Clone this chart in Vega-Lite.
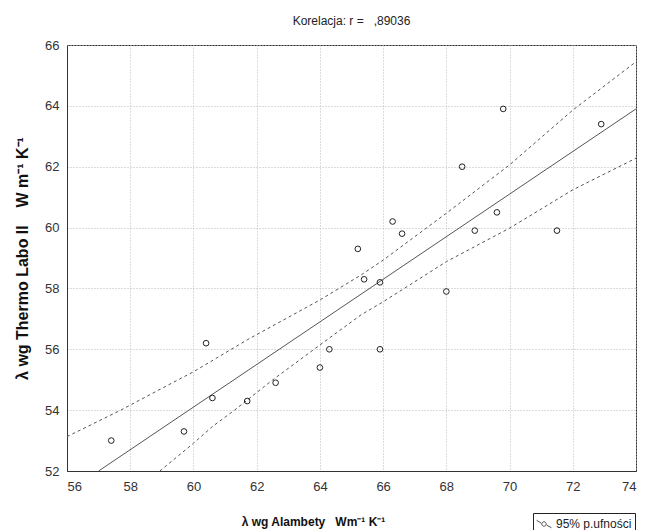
{
  "$schema": "https://vega.github.io/schema/vega-lite/v6.json",
  "autosize": "none",
  "width": 569,
  "height": 426,
  "padding": {"left": 67, "top": 45, "right": 9, "bottom": 59},
  "background": "#ffffff",
  "title": {"text": "Korelacja: r =\u00a0\u00a0 ,89036", "font": "Liberation Sans", "fontSize": 12, "fontWeight": "normal", "color": "#222222", "offset": 11, "anchor": "middle"},
  "config": {
    "view": {"stroke": "#333333", "strokeWidth": 1},
    "axis": {"labelFont": "Liberation Sans", "labelFontSize": 13, "labelColor": "#333333", "titleFont": "Liberation Sans", "titleColor": "#111111", "gridColor": "#b8b8b8", "gridDash": [1, 2], "gridWidth": 1, "domainColor": "#333333", "ticks": false}
  },
  "datasets": {
    "pts": [
      {"x": 57.4, "y": 53.0}, {"x": 59.7, "y": 53.3}, {"x": 60.4, "y": 56.2}, {"x": 60.6, "y": 54.4},
      {"x": 61.7, "y": 54.3}, {"x": 62.6, "y": 54.9}, {"x": 64.0, "y": 55.4}, {"x": 64.3, "y": 56.0},
      {"x": 65.2, "y": 59.3}, {"x": 65.4, "y": 58.3}, {"x": 65.9, "y": 58.2}, {"x": 65.9, "y": 56.0},
      {"x": 66.3, "y": 60.2}, {"x": 66.6, "y": 59.8}, {"x": 68.0, "y": 57.9}, {"x": 68.5, "y": 62.0},
      {"x": 68.9, "y": 59.9}, {"x": 69.6, "y": 60.5}, {"x": 69.8, "y": 63.9}, {"x": 71.5, "y": 59.9},
      {"x": 72.9, "y": 63.4}
    ],
    "fit": [{"x": 57.0, "y": 52.0}, {"x": 74.0, "y": 63.9}],
    "bands": [
      {"x": 56.0, "y": 53.13, "band": "upper", "label": "95% p.ufności"},
      {"x": 57.7, "y": 54.0, "band": "upper", "label": "95% p.ufności"},
      {"x": 59.3, "y": 54.88, "band": "upper", "label": "95% p.ufności"},
      {"x": 60.0, "y": 55.26, "band": "upper", "label": "95% p.ufności"},
      {"x": 61.7, "y": 56.31, "band": "upper", "label": "95% p.ufności"},
      {"x": 64.0, "y": 57.62, "band": "upper", "label": "95% p.ufności"},
      {"x": 65.3, "y": 58.44, "band": "upper", "label": "95% p.ufności"},
      {"x": 66.0, "y": 58.93, "band": "upper", "label": "95% p.ufności"},
      {"x": 68.0, "y": 60.47, "band": "upper", "label": "95% p.ufności"},
      {"x": 70.0, "y": 62.06, "band": "upper", "label": "95% p.ufności"},
      {"x": 72.0, "y": 63.86, "band": "upper", "label": "95% p.ufności"},
      {"x": 74.0, "y": 65.45, "band": "upper", "label": "95% p.ufności"},
      {"x": 58.94, "y": 52.0, "band": "lower", "label": "95% p.ufności"},
      {"x": 60.0, "y": 52.91, "band": "lower", "label": "95% p.ufności"},
      {"x": 60.6, "y": 53.46, "band": "lower", "label": "95% p.ufności"},
      {"x": 61.3, "y": 54.0, "band": "lower", "label": "95% p.ufności"},
      {"x": 62.5, "y": 54.99, "band": "lower", "label": "95% p.ufności"},
      {"x": 64.0, "y": 56.14, "band": "lower", "label": "95% p.ufności"},
      {"x": 65.3, "y": 57.13, "band": "lower", "label": "95% p.ufności"},
      {"x": 66.0, "y": 57.56, "band": "lower", "label": "95% p.ufności"},
      {"x": 68.0, "y": 58.88, "band": "lower", "label": "95% p.ufności"},
      {"x": 70.0, "y": 59.98, "band": "lower", "label": "95% p.ufności"},
      {"x": 72.0, "y": 61.24, "band": "lower", "label": "95% p.ufności"},
      {"x": 74.0, "y": 62.28, "band": "lower", "label": "95% p.ufności"}
    ]
  },
  "encoding": {
    "x": {"field": "x", "type": "quantitative", "scale": {"domain": [56, 74], "nice": false, "zero": false},
      "axis": {"values": [56, 58, 60, 62, 64, 66, 68, 70, 72, 74], "labelPadding": 9, "title": "λ wg Alambety\u00a0\u00a0 Wm⁻¹ K⁻¹", "titleFontSize": 12, "titleFontWeight": "bold", "titleX": 246, "titleY": 50, "titleBaseline": "middle", "titleAlign": "center", "titleAnchor": null}},
    "y": {"field": "y", "type": "quantitative", "scale": {"domain": [52, 66], "nice": false, "zero": false},
      "axis": {"values": [52, 54, 56, 58, 60, 62, 64, 66], "labelPadding": 8, "title": "λ wg Thermo Labo II\u00a0\u00a0\u00a0 W m⁻¹ K⁻¹", "titleFontSize": 16, "titleFontWeight": "bold", "titleX": -45, "titleY": 213, "titleAngle": 270, "titleBaseline": "middle", "titleAlign": "center", "titleAnchor": null}}
  },
  "layer": [
    {
      "data": {"name": "bands"},
      "mark": {"type": "line", "strokeDash": [3, 3], "strokeWidth": 1, "clip": true},
      "encoding": {
        "detail": {"field": "band"},
        "stroke": {"field": "label", "type": "nominal", "scale": {"range": ["#555555"]},
          "legend": {"title": null, "orient": "none", "legendX": 466, "legendY": 468, "strokeColor": "#222222", "fillColor": "#ffffff", "padding": 3, "labelFont": "Liberation Sans", "labelFontSize": 12, "labelColor": "#222222", "symbolType": "M-1,-0.5L-0.35,-0.1M0.35,0.15L1,0.5M0.3,0A0.3,0.3 0 1,1 -0.3,0A0.3,0.3 0 1,1 0.3,0", "symbolSize": 220, "symbolStrokeWidth": 1, "symbolStrokeColor": "#444444", "symbolFillColor": "transparent", "labelOffset": 4}}
      }
    },
    {
      "data": {"name": "fit"},
      "mark": {"type": "line", "color": "#555555", "strokeWidth": 1, "clip": true},
      "encoding": {}
    },
    {
      "data": {"name": "pts"},
      "mark": {"type": "point", "shape": "circle", "filled": false, "size": 32, "stroke": "#222222", "strokeWidth": 1, "opacity": 1},
      "encoding": {}
    }
  ]
}
